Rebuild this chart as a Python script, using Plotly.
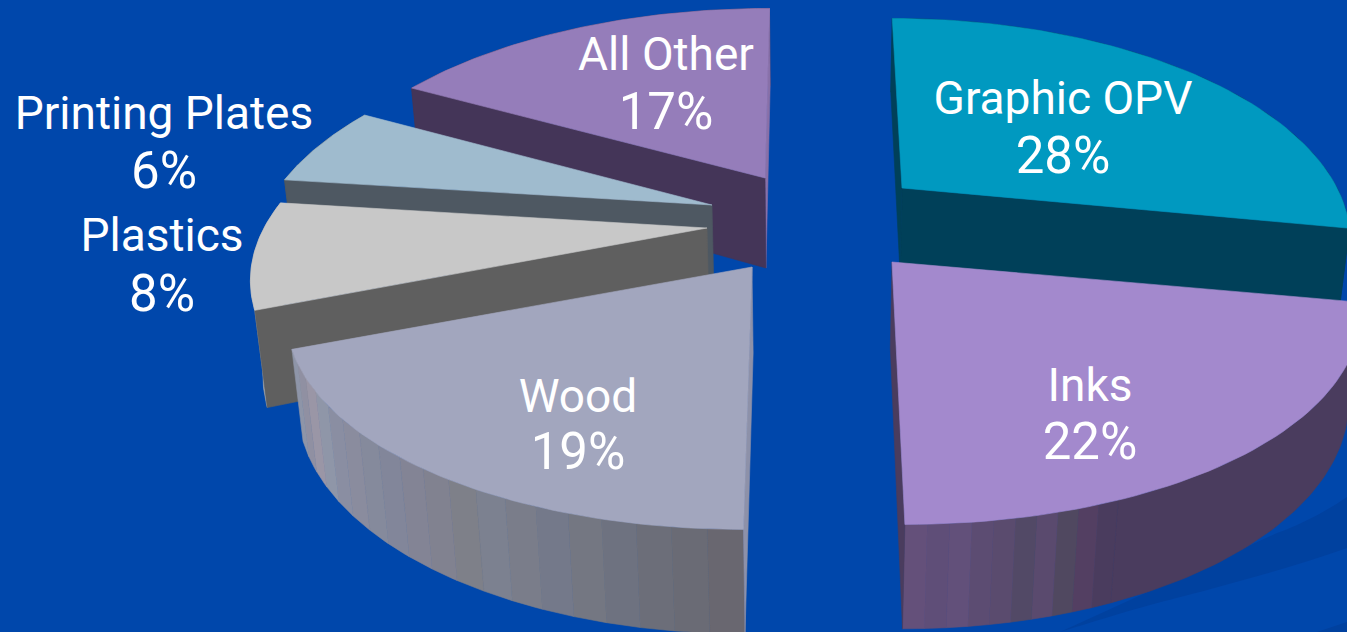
import numpy as np
import plotly.graph_objects as go

# Market share by segment
categories = ["Graphic OPV", "Inks", "Wood", "Plastics", "Printing Plates", "All Other"]
shares = [28, 22, 19, 8, 6, 17]

# Drawing attributes per slice
top_colors = ["#0099C0", "#A389CD", "#A2A6BE", "#C8C8C8", "#9FBBCE", "#957DBA"]
rim_colors = ["#004059", "#4A3C5E", "#8D91A9", "#A8A8A8", "#4E5862", "#443558"]
start_face_colors = ["#004059", None, "#8D91A9", "#5F5F5F", "#4E5862", "#443558"]
end_face_colors = ["#004059", "#4A3C5E", None, None, None, "#8870A8"]
apex_x = [902, 892, 752, 707, 712, 765]
apex_y = [188, 262, 267, 228, 205, 178]
radius_x = [435, 455, 453, 443, 444, 448]
depths = [86, 86, 86, 91, 86, 90]
name_x = [1063, 1090, 578, 162, 164, 666]
name_y = [102, 389, 400, 239, 117, 58]
pct_y = [160, 446, 456, 298, 175, 116]

# Shaded bands on the outer walls of the two front slices
wood_bands = ["#696770", "#6A6B75", "#6C6E79", "#6E7280", "#747782", "#74798A", "#7A7D8A",
              "#7C8190", "#7E8089", "#818290", "#838495", "#82869A", "#858A9C", "#8A8C9E",
              "#8A8EA2", "#8F96A8", "#9A96A6", "#9090A2", "#8E95A8"]
inks_bands = ["#4A3C5E", "#533F62", "#504860", "#5A4A6E", "#524966", "#5A4B6E",
              "#5C4C72", "#62507A", "#5F4E78", "#64507A"]

BG = "#0047AB"
SWEEP = "#00419F"
RY = 206.0
PERSP = 0.215
VANISH_X = 808.0
VANISH_UP = -1450.0
VANISH_DOWN = 4260.0


def top_point(i, deg):
    a = np.radians(deg)
    x, y = np.sin(a), np.cos(a)
    s = 1.0 / (1.0 + PERSP * y)
    skew = (apex_x[i] - VANISH_X) / (apex_y[i] - VANISH_UP)
    py = apex_y[i] - RY * y * s
    px = apex_x[i] + radius_x[i] * x * s + skew * (py - apex_y[i])
    return px, py, s


def bottom_point(i, px, py, s):
    dz = depths[i] * s ** 0.8
    return px + (VANISH_X - px) * dz / VANISH_DOWN, py + dz


def arc(i, d0, d1, n=60):
    return [top_point(i, d) for d in np.linspace(d0, d1, n)]


def polygon(xs, ys, color):
    return go.Scatter(x=list(xs) + [xs[0]], y=list(ys) + [ys[0]], mode="lines", fill="toself",
                      fillcolor=color, line=dict(width=0.6, color=color), hoverinfo="skip",
                      showlegend=False)


def wall(i, d0, d1, color):
    tops = arc(i, d0, d1)
    bots = [bottom_point(i, *p) for p in tops]
    xs = [p[0] for p in tops] + [p[0] for p in bots[::-1]]
    ys = [p[1] for p in tops] + [p[1] for p in bots[::-1]]
    return polygon(xs, ys, color)


def cut_face(i, deg, color):
    rim = top_point(i, deg)
    rim_b = bottom_point(i, *rim)
    ax, ay = apex_x[i], apex_y[i]
    ab = bottom_point(i, ax, ay, 1.0)
    return polygon([ax, rim[0], rim_b[0], ab[0]], [ay, rim[1], rim_b[1], ab[1]], color)


def slice_traces(i, d0, d1):
    traces = []
    # outer wall first, then whichever cut faces look toward the viewer, then the top
    if i == 1:
        split = d0 + (d1 - d0) * 0.72
        traces.append(wall(i, d0, split, rim_colors[i]))
        edges = np.linspace(split, d1, len(inks_bands) + 1)
        traces += [wall(i, edges[k], edges[k + 1], inks_bands[k]) for k in range(len(inks_bands))]
    elif i == 2:
        edges = np.linspace(d0, d1, len(wood_bands) + 1)
        traces += [wall(i, edges[k], edges[k + 1], wood_bands[k]) for k in range(len(wood_bands))]
    else:
        traces.append(wall(i, d0, d1, rim_colors[i]))
    if end_face_colors[i]:
        traces.append(cut_face(i, d1, end_face_colors[i]))
    if start_face_colors[i]:
        traces.append(cut_face(i, d0, start_face_colors[i]))
    tops = arc(i, d0, d1)
    xs = [apex_x[i]] + [p[0] for p in tops]
    ys = [apex_y[i]] + [p[1] for p in tops]
    traces.append(polygon(xs, ys, top_colors[i]))
    return traces


cum = np.concatenate([[0], np.cumsum(shares)]) * 3.6
fig = go.Figure()

# Slices are painted back to front
for i in [5, 4, 3, 2, 0, 1]:
    fig.add_traces(slice_traces(i, cum[i], cum[i + 1]))

fig.add_trace(go.Scatter(x=name_x, y=name_y, mode="text", text=categories,
                         textposition="middle center",
                         textfont=dict(family="Roboto", size=46, color="white"),
                         hoverinfo="skip", showlegend=False))
fig.add_trace(go.Scatter(x=name_x, y=pct_y, mode="text", text=[f"{v}%" for v in shares],
                         textposition="middle center",
                         textfont=dict(family="Roboto", size=51, color="white"),
                         hoverinfo="skip", showlegend=False))

# Faint sweep in the lower right of the backdrop
sweep = [
    dict(type="path",
         path="M 1277 533 C 1300 525 1325 512 1347 497 L 1347 548 C 1300 565 1250 578 1200 592 "
              "C 1160 602 1130 610 1060 632 Z",
         fillcolor=SWEEP, line=dict(width=0), layer="below"),
    dict(type="path", path="M 1317 632 L 1347 622 L 1347 632 Z",
         fillcolor=SWEEP, line=dict(width=0), layer="below"),
]

fig.update_layout(
    width=1347, height=632, margin=dict(l=0, r=0, t=0, b=0),
    paper_bgcolor=BG, plot_bgcolor=BG, showlegend=False, shapes=sweep,
    xaxis=dict(range=[0, 1347], visible=False, fixedrange=True),
    yaxis=dict(range=[632, 0], visible=False, fixedrange=True),
)
fig.write_html("out.html", config=dict(displayModeBar=False))
